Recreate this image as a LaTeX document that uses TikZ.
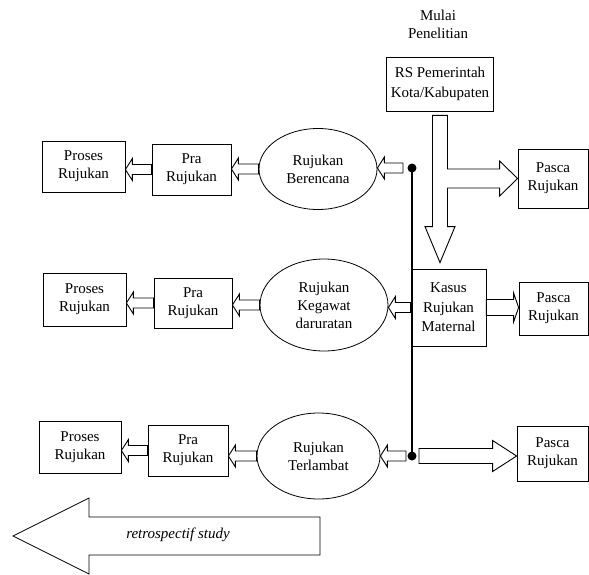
\documentclass[tikz,border=0pt]{standalone}
\usepackage{fontspec}
\setmainfont{Liberation Serif}
\usepackage{tikz}
\usetikzlibrary{shapes.geometric, calc}

% hollow block arrow from #1 to #2 (half shaft, half head, head length)
\newcommand{\hollowarrow}[5]{%
  \draw[block_arrow] let \p1=(#1), \p2=(#2), \n1={sign(\x2-\x1)} in
    (\x1,\y1+#3) -- ({\x2-\n1*#5},\y1+#3) -- ({\x2-\n1*#5},\y1+#4) -- (\x2,\y1)
    -- ({\x2-\n1*#5},\y1-#4) -- ({\x2-\n1*#5},\y1-#3) -- (\x1,\y1-#3) -- cycle ;}

\begin{document}
\begin{tikzpicture}
    [
        x=1pt, y=-1pt,
        every node/.style={font=\fontsize{15}{18}\selectfont, align=center},
        box_node/.style={rectangle, draw=black, line width=0.8pt, inner sep=0pt},
        oval_node/.style={ellipse, draw=black, line width=0.8pt, inner sep=0pt},
        dot_node/.style={circle, fill=black, inner sep=0pt, minimum size=9pt},
        block_arrow/.style={draw=black, fill=white, line width=0.9pt, line join=miter},
    ]
        \useasboundingbox (0,0) rectangle (589,574) ;
        \node (mulai) at (438,24.5) {Mulai\\Penelitian} ;
        \node[box_node, minimum width=107pt, minimum height=54pt, font=\fontsize{15}{20}\selectfont] (rs) at (440,84) {RS Pemerintah\\Kota/Kabupaten} ;
        \node[box_node, minimum width=75pt, minimum height=77pt, font=\fontsize{15}{19.5}\selectfont] (kasus) at (448.5,307.5) {Kasus\\Rujukan\\Maternal} ;
        \node[box_node, minimum width=70pt, minimum height=59pt] (pascaA) at (553,178.5) {Pasca\\Rujukan} ;
        \node[box_node, minimum width=69pt, minimum height=53pt] (pascaB) at (553.5,308.5) {Pasca\\Rujukan} ;
        \node[box_node, minimum width=71pt, minimum height=55pt] (pascaC) at (552.5,453.5) {Pasca\\Rujukan} ;
        \node[oval_node, minimum width=118pt, minimum height=81pt] (ellA) at (318,169) {Rujukan\\Berencana} ;
        \node[oval_node, minimum width=128pt, minimum height=92pt] (ellB) at (324,305) {Rujukan\\Kegawat\\daruratan} ;
        \node[oval_node, minimum width=123pt, minimum height=86pt] (ellC) at (318.5,456) {Rujukan\\Terlambat} ;
        \node[box_node, minimum width=79pt, minimum height=51pt] (praA) at (191.5,169.5) {Pra\\Rujukan} ;
        \node[box_node, minimum width=78pt, minimum height=50pt] (praB) at (193,303) {Pra\\Rujukan} ;
        \node[box_node, minimum width=80pt, minimum height=51pt] (praC) at (188,450.5) {Pra\\Rujukan} ;
        \node[box_node, minimum width=83pt, minimum height=51pt] (prosesA) at (83.5,166.5) {Proses\\Rujukan} ;
        \node[box_node, minimum width=83pt, minimum height=53pt] (prosesB) at (84.5,299.5) {Proses\\Rujukan} ;
        \node[box_node, minimum width=82pt, minimum height=52pt] (prosesC) at (80,447) {Proses\\Rujukan} ;
        \node[dot_node] (dotA) at (412,168) {} ;
        \node[dot_node] (dotC) at (412,456) {} ;
        \node[font=\fontsize{15}{18}\selectfont\itshape] (retro) at (178,535) {retrospectif study} ;
        \draw[line width=2.5pt] (dotA.center) -- (dotC.center) ;
        \draw[block_arrow] let \p1=(rs.south), \p2=(kasus.north), \p3=(pascaA.west) in
            (\x1-7.5pt,\y1-4pt) -- (\x1+7.5pt,\y1-4pt) -- (\x1+7.5pt,\y3+9.5pt) -- (\x3-18pt,\y3+9.5pt)
            -- (\x3-18pt,\y3+17.5pt) -- (\x3,\y3) -- (\x3-18pt,\y3-17.5pt) -- (\x3-18pt,\y3-9.5pt)
            -- (\x1+7.5pt,\y3-9.5pt) -- (\x1+7.5pt,\y2+42pt) -- (\x1+15pt,\y2+42pt) -- (\x1,\y2+6pt)
            -- (\x1-15pt,\y2+42pt) -- (\x1-7.5pt,\y2+42pt) -- cycle ;
        \hollowarrow{[xshift=-9pt]dotA.center}{ellA.east}{5pt}{11pt}{7pt}
        \hollowarrow{kasus.west}{ellB.east}{5pt}{11pt}{7pt}
        \hollowarrow{[xshift=-6pt]dotC.center}{ellC.east}{5pt}{11pt}{7pt}
        \hollowarrow{[xshift=7pt]dotC.center}{pascaC.west}{7.5pt}{15.5pt}{24pt}
        \hollowarrow{kasus.east}{pascaB.west}{8pt}{14.5pt}{5pt}
        \hollowarrow{ellA.west}{praA.east}{5pt}{11pt}{7pt}
        \hollowarrow{ellB.west}{praB.east}{5pt}{11pt}{7pt}
        \hollowarrow{ellC.west}{praC.east}{5pt}{11pt}{7pt}
        \hollowarrow{praA.west}{prosesA.east}{5pt}{11pt}{7pt}
        \hollowarrow{praB.west}{prosesB.east}{5pt}{11pt}{7pt}
        \hollowarrow{praC.west}{prosesC.east}{5pt}{11pt}{7pt}
        \draw[line width=0.8pt] (320,517) -- (89,517) -- (89,498) -- (13,536) -- (89,574) -- (89,555) -- (320,555) -- cycle ;
    \end{tikzpicture}
\end{document}
